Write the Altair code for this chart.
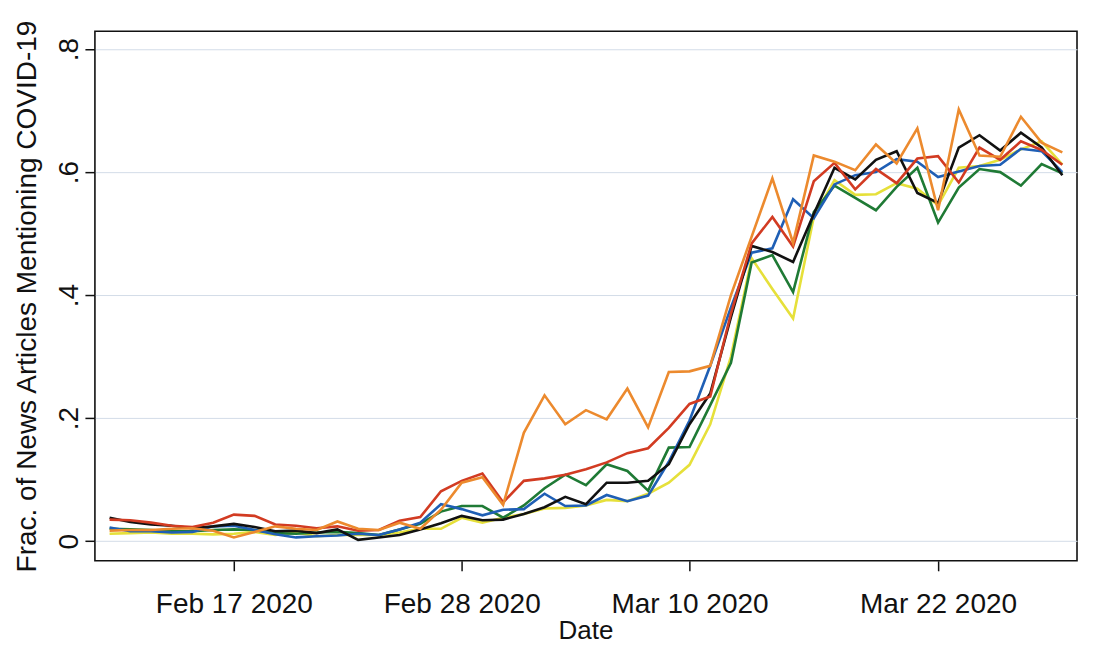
import altair as alt
import pandas as pd

dates = [
    "2020-02-11", "2020-02-12", "2020-02-13", "2020-02-14", "2020-02-15", "2020-02-16",
    "2020-02-17", "2020-02-18", "2020-02-19", "2020-02-20", "2020-02-21", "2020-02-22",
    "2020-02-23", "2020-02-24", "2020-02-25", "2020-02-26", "2020-02-27", "2020-02-28",
    "2020-02-29", "2020-03-01", "2020-03-02", "2020-03-03", "2020-03-04", "2020-03-05",
    "2020-03-06", "2020-03-07", "2020-03-08", "2020-03-09", "2020-03-10", "2020-03-11",
    "2020-03-12", "2020-03-13", "2020-03-14", "2020-03-15", "2020-03-16", "2020-03-17",
    "2020-03-18", "2020-03-19", "2020-03-20", "2020-03-21", "2020-03-22", "2020-03-23",
    "2020-03-24", "2020-03-25", "2020-03-26", "2020-03-27", "2020-03-28",
]

yellow = [0.012, 0.013, 0.014, 0.012, 0.012, 0.011, 0.012, 0.015, 0.010, 0.014, 0.008, 0.010,
          0.010, 0.010, 0.014, 0.020, 0.020, 0.038, 0.030, 0.038, 0.044, 0.053, 0.054, 0.058,
          0.067, 0.065, 0.077, 0.095, 0.124, 0.190, 0.300, 0.460, 0.410, 0.362, 0.527, 0.587,
          0.563, 0.564, 0.582, 0.573, 0.546, 0.607, 0.610, 0.620, 0.637, 0.650, 0.612]
green = [0.020, 0.019, 0.018, 0.016, 0.016, 0.018, 0.019, 0.018, 0.013, 0.012, 0.014, 0.015,
         0.013, 0.010, 0.019, 0.028, 0.048, 0.057, 0.057, 0.038, 0.058, 0.086, 0.108, 0.091,
         0.125, 0.114, 0.082, 0.152, 0.153, 0.221, 0.290, 0.453, 0.465, 0.405, 0.535, 0.578,
         0.558, 0.538, 0.576, 0.607, 0.518, 0.575, 0.605, 0.600, 0.578, 0.613, 0.598]
blue = [0.022, 0.016, 0.016, 0.014, 0.015, 0.024, 0.025, 0.018, 0.011, 0.006, 0.008, 0.009,
        0.012, 0.010, 0.019, 0.030, 0.060, 0.052, 0.042, 0.051, 0.052, 0.077, 0.057, 0.058,
        0.075, 0.065, 0.074, 0.129, 0.196, 0.285, 0.380, 0.469, 0.476, 0.556, 0.525, 0.580,
        0.595, 0.600, 0.621, 0.617, 0.592, 0.601, 0.610, 0.612, 0.638, 0.634, 0.600]
black = [0.038, 0.031, 0.027, 0.025, 0.021, 0.024, 0.028, 0.023, 0.016, 0.017, 0.013, 0.019,
         0.002, 0.006, 0.010, 0.019, 0.029, 0.041, 0.034, 0.035, 0.044, 0.055, 0.072, 0.060,
         0.095, 0.095, 0.098, 0.125, 0.190, 0.240, 0.364, 0.480, 0.470, 0.454, 0.532, 0.607,
         0.588, 0.620, 0.634, 0.566, 0.550, 0.640, 0.660, 0.635, 0.664, 0.640, 0.595]
red = [0.035, 0.034, 0.030, 0.025, 0.023, 0.030, 0.043, 0.041, 0.027, 0.025, 0.021, 0.024,
       0.017, 0.018, 0.033, 0.039, 0.081, 0.098, 0.110, 0.063, 0.098, 0.102, 0.108, 0.117,
       0.128, 0.143, 0.151, 0.184, 0.223, 0.235, 0.370, 0.484, 0.527, 0.479, 0.585, 0.615,
       0.572, 0.605, 0.582, 0.622, 0.626, 0.583, 0.640, 0.620, 0.650, 0.636, 0.612]
orange = [0.017, 0.018, 0.018, 0.020, 0.021, 0.017, 0.006, 0.015, 0.024, 0.020, 0.018, 0.032,
          0.020, 0.018, 0.030, 0.020, 0.051, 0.095, 0.104, 0.059, 0.176, 0.237, 0.190, 0.213,
          0.198, 0.248, 0.185, 0.275, 0.276, 0.285, 0.400, 0.495, 0.590, 0.485, 0.627, 0.617,
          0.603, 0.645, 0.614, 0.671, 0.538, 0.702, 0.627, 0.625, 0.690, 0.648, 0.632]

series_names = ["Series 6", "Series 5", "Series 4", "Series 3", "Series 2", "Series 1"]
series_values = [yellow, green, blue, black, red, orange]
series_colors = ["#e6e03a", "#1f7a35", "#1f5fb5", "#111111", "#d23b22", "#ec8a2e"]

y_ticks = [0, 0.2, 0.4, 0.6, 0.8]
x_ticks = [
    alt.DateTime(year=2020, month=2, date=17),
    alt.DateTime(year=2020, month=2, date=28),
    alt.DateTime(year=2020, month=3, date=10),
    alt.DateTime(year=2020, month=3, date=22),
]

rows = []
for k, (name, vals) in enumerate(zip(series_names, series_values)):
    for d, v in zip(dates, vals):
        rows.append({"date": d + "T00:00:00", "value": v, "series": name, "k": k})
df = pd.DataFrame(rows)

font = "Liberation Sans"

chart = (
    alt.Chart(df)
    .mark_line(strokeWidth=2.6, strokeJoin="miter")
    .encode(
        x=alt.X(
            "date:T",
            title="Date",
            scale=alt.Scale(
                domain=[
                    alt.DateTime(year=2020, month=2, date=10, hours=7),
                    alt.DateTime(year=2020, month=3, date=28, hours=17),
                ]
            ),
            axis=alt.Axis(
                values=x_ticks,
                format="%b %d %Y",
                grid=False,
                domain=False,
                ticks=True,
                tickSize=10,
                tickColor="#111111",
                tickWidth=1.5,
                labelFont=font,
                labelFontSize=28,
                labelColor="#111111",
                labelPadding=20,
                labelFlush=False,
                titleFont=font,
                titleFontSize=26,
                titleFontWeight="normal",
                titleColor="#111111",
                titleX=491,
                titleY=70,
                titleBaseline="middle",
                titleAlign="center",
            ),
        ),
        y=alt.Y(
            "value:Q",
            title="Frac. of News Articles Mentioning COVID-19",
            scale=alt.Scale(domain=[-0.032, 0.829], nice=False, zero=False),
            axis=alt.Axis(
                values=y_ticks,
                labelExpr="datum.value == 0 ? '0' : '.' + round(datum.value * 10)",
                grid=True,
                gridColor="#d3dce8",
                gridWidth=1,
                domain=False,
                tickSize=10,
                tickColor="#111111",
                tickWidth=1.5,
                labelAngle=270,
                labelAlign="center",
                labelBaseline="bottom",
                labelFont=font,
                labelFontSize=28,
                labelColor="#111111",
                labelPadding=1,
                titleFont=font,
                titleFontSize=28,
                titleFontWeight="normal",
                titleColor="#111111",
                titleAngle=270,
                titleX=-67,
                titleY=265,
                titleAlign="center",
                titleBaseline="middle",
            ),
        ),
        color=alt.Color(
            "series:N",
            scale=alt.Scale(domain=series_names, range=series_colors),
            legend=None,
        ),
        order=alt.Order("date:T"),
    )
    .properties(
        width=983,
        height=530,
        autosize="none",
        padding={"left": 87, "top": 23, "right": 10, "bottom": 92},
        background="white",
    )
    .configure_view(stroke="#111111", strokeWidth=1.6)
)

chart.save("out.html", embed_options={"renderer": "svg", "actions": False})
